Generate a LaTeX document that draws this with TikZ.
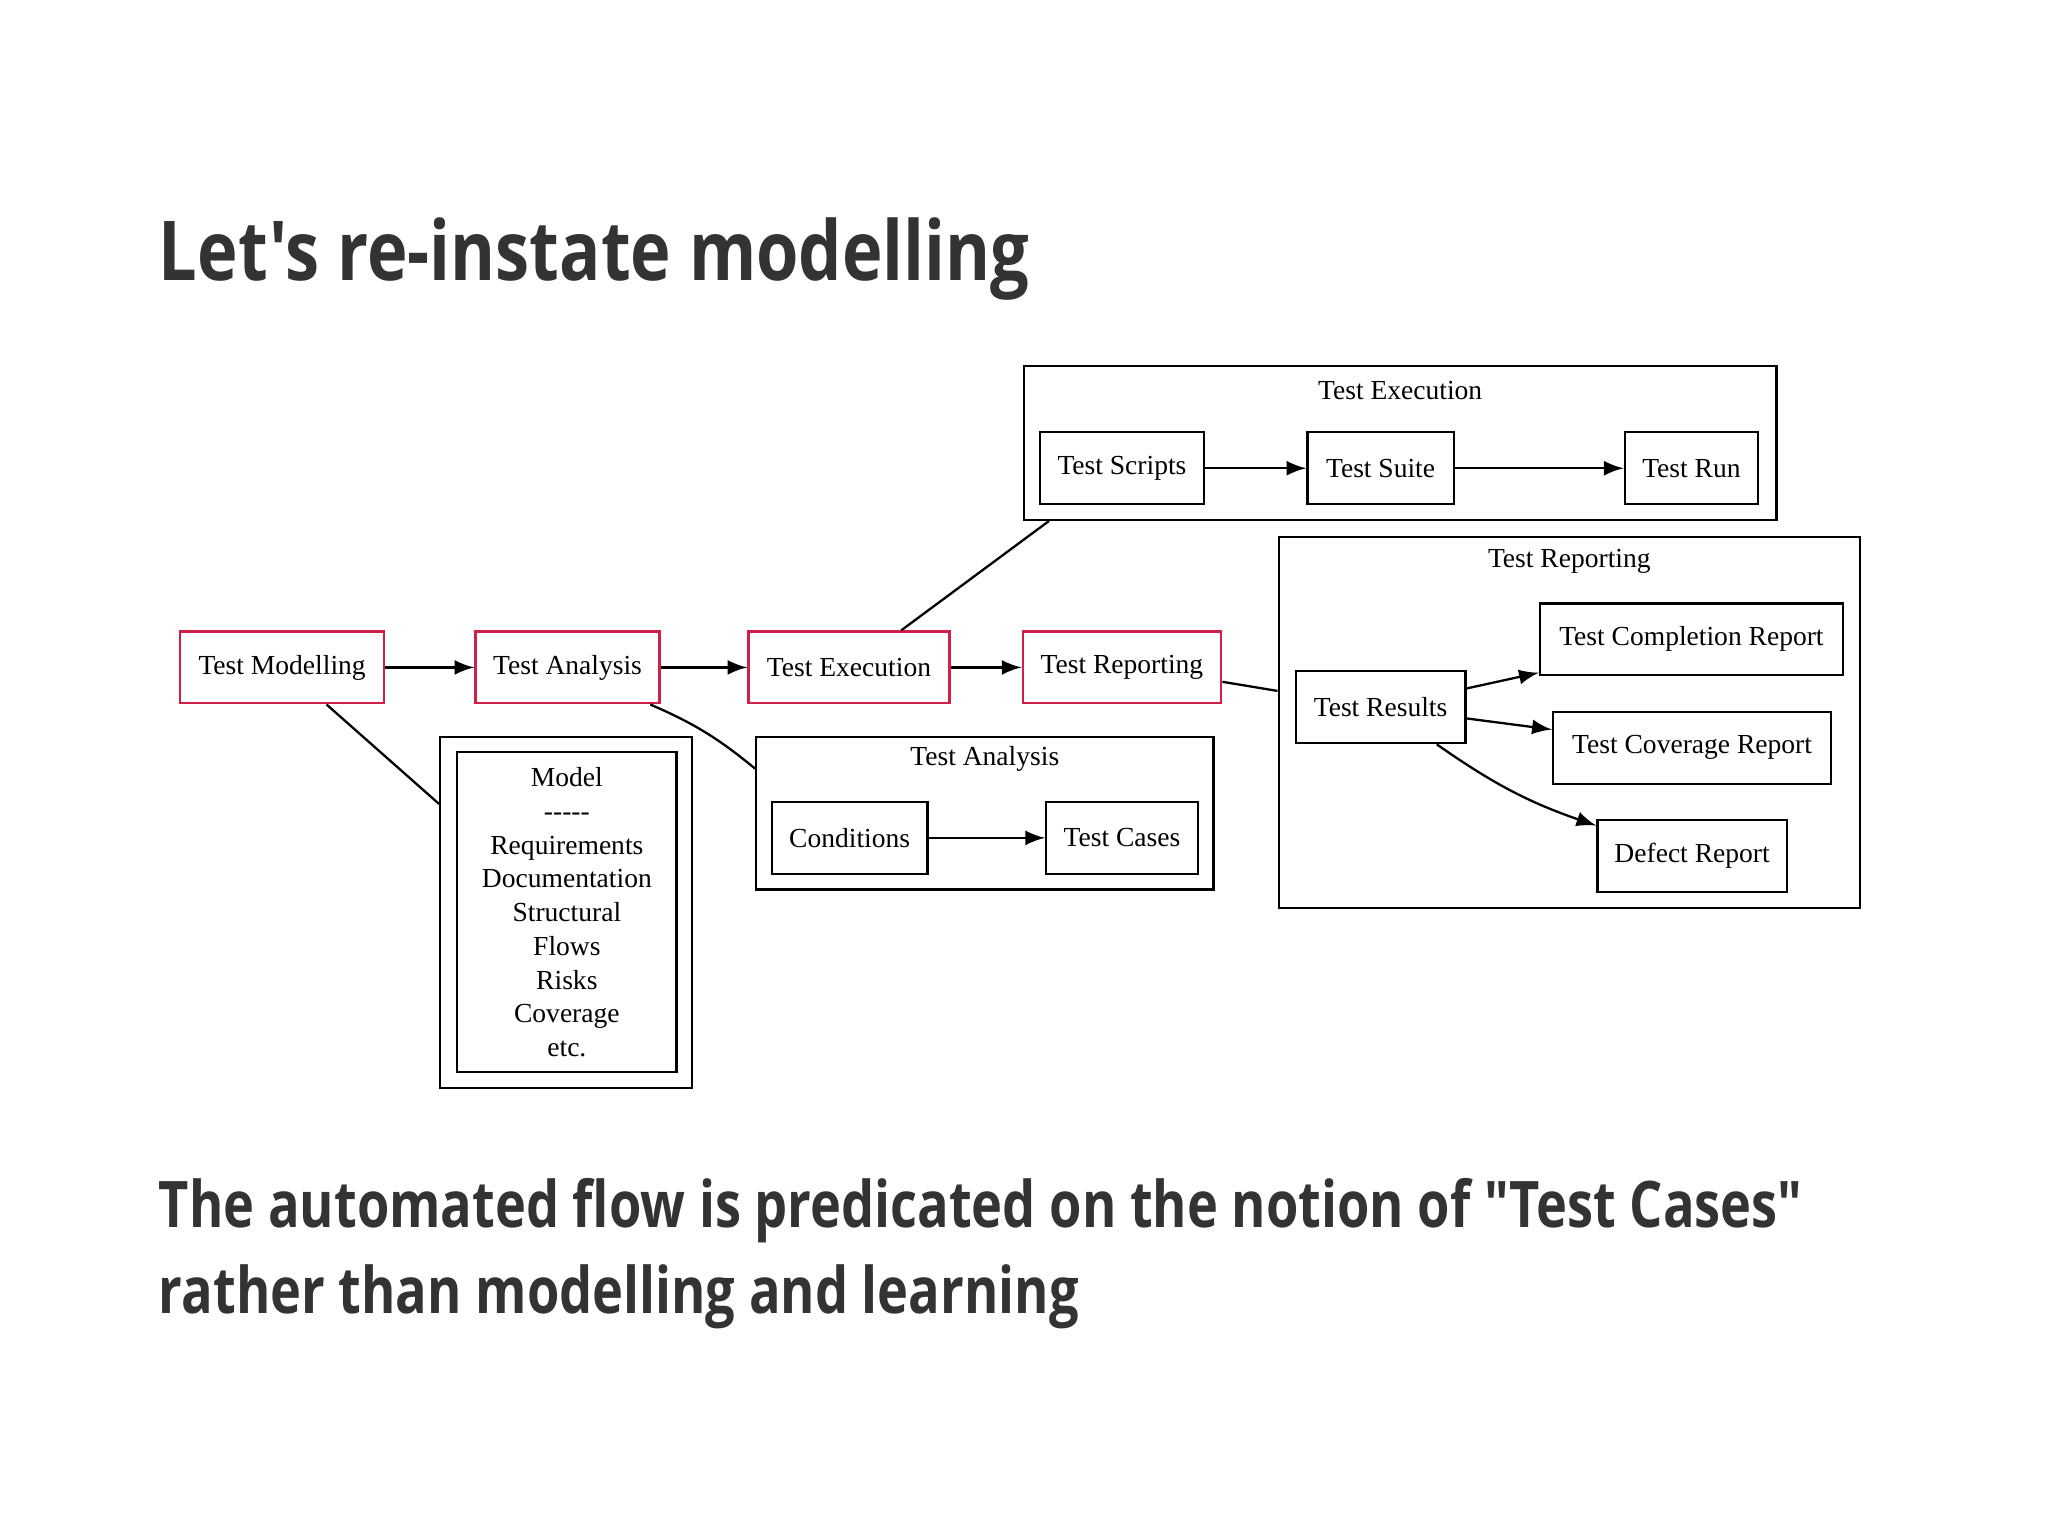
\documentclass[tikz,border=0pt]{standalone}
\usepackage{fontspec}
\setmainfont{Liberation Serif}
\newfontfamily\slidefont{Open Sans}
\usetikzlibrary{positioning}
\definecolor{stepred}{RGB}{208,32,74}
\definecolor{slidegrey}{RGB}{51,51,51}

\tikzset{
  box/.style={draw, line width=0.5pt, minimum height=0.55cm, inner sep=0pt, font=\fontsize{6}{7}\selectfont},
  stage/.style={box, draw=stepred},
  cluster/.style={draw, line width=0.5pt, inner sep=0pt},
  ctitle/.style={font=\fontsize{6}{7}\selectfont},
  arr/.style={-latex, line width=0.5pt},
  link/.style={line width=0.5pt}
}

\begin{document}
\begin{tikzpicture}
  \useasboundingbox (0,0) rectangle (15.68,-11.76);
  \fill[white] (0,0) rectangle (15.68,-11.76);

  % slide texts
  \node[anchor=base west, inner sep=0pt, text=slidegrey, font=\slidefont\bfseries\fontsize{18}{22}\selectfont] (title) at (1.21,-2.15) {\scalebox{0.83}[1]{Let's re-instate modelling}};
  \node[anchor=base west, inner sep=0pt, text=slidegrey, font=\slidefont\bfseries\fontsize{14}{17}\selectfont] (line1) at (1.21,-9.40) {\scalebox{0.815}[1]{The automated flow is predicated on the notion of "Test Cases"}};
  \node[anchor=base west, inner sep=0pt, text=slidegrey, font=\slidefont\bfseries\fontsize{14}{17}\selectfont] (line2) at (1.21,-10.06) {\scalebox{0.815}[1]{rather than modelling and learning}};

  % main flow
  \node[stage, minimum width=1.56cm] (tm) at (2.16,-5.11) {Test Modelling};
  \node[stage, minimum width=1.41cm] (ta) at (4.345,-5.11) {Test Analysis};
  \node[stage, minimum width=1.54cm] (te) at (6.50,-5.11) {Test Execution};
  \node[stage, minimum width=1.52cm] (tp) at (8.59,-5.11) {Test Reporting};
  \draw[arr] (tm) -- (ta);
  \draw[arr] (ta) -- (te);
  \draw[arr] (te) -- (tp);

  % execution cluster
  \node[cluster, minimum width=5.76cm, minimum height=1.18cm] (ce) at (10.72,-3.39) {};
  \node[ctitle] (cet) at (10.72,-2.99) {Test Execution};
  \node[box, minimum width=1.26cm] (ts) at (8.59,-3.585) {Test Scripts};
  \node[box, minimum width=1.12cm] (su) at (10.57,-3.585) {Test Suite};
  \node[box, minimum width=1.02cm] (tr) at (12.95,-3.585) {Test Run};
  \draw[arr] (ts) -- (su);
  \draw[arr] (su) -- (tr);

  % reporting cluster
  \node[cluster, minimum width=4.45cm, minimum height=2.84cm] (cr) at (12.015,-5.53) {};
  \node[ctitle] (crt) at (12.015,-4.30) {Test Reporting};
  \node[box, minimum width=1.30cm] (res) at (10.57,-5.415) {Test Results};
  \node[box, minimum width=2.32cm] (tcr) at (12.95,-4.895) {Test Completion Report};
  \node[box, minimum width=2.13cm] (tcv) at (12.955,-5.725) {Test Coverage Report};
  \node[box, minimum width=1.45cm] (dr) at (12.955,-6.555) {Defect Report};
  \draw[arr] (res) -- (tcr);
  \draw[arr] (res) -- (tcv);
  \draw[arr] ([xshift=0.43cm]res.south) to[bend right=8] ([yshift=-0.05cm]dr.north west);

  % analysis cluster
  \node[cluster, minimum width=3.50cm, minimum height=1.17cm] (ca) at (7.54,-6.225) {};
  \node[ctitle] (cat) at (7.54,-5.81) {Test Analysis};
  \node[box, minimum width=1.19cm] (co) at (6.505,-6.415) {Conditions};
  \node[box, minimum width=1.16cm] (tc) at (8.59,-6.415) {Test Cases};
  \draw[arr] (co) -- (tc);

  % model box
  \node[cluster, minimum width=1.93cm, minimum height=2.69cm] (mo) at (4.335,-6.985) {};
  \node[cluster, minimum width=1.68cm, minimum height=2.45cm, align=center,
        font=\fontsize{6}{7.35}\selectfont] (mi) at (4.34,-6.985)
        {Model\\{-}{-}{-}{-}{-}\\Requirements\\Documentation\\Structural\\Flows\\Risks\\Coverage\\etc.};

  % links to clusters
  \draw[link] ([xshift=0.34cm]tm.south) -- ([yshift=0.83cm]mo.west);
  \draw[link] ([xshift=-0.08cm]ta.south east) to[bend left=8] ([yshift=0.34cm]ca.west);
  \draw[link] ([xshift=0.40cm]te.north) -- ([xshift=0.20cm]ce.south west);
  \draw[link] ([yshift=-0.11cm]tp.east) -- ([yshift=0.24cm]cr.west);
\end{tikzpicture}
\end{document}
